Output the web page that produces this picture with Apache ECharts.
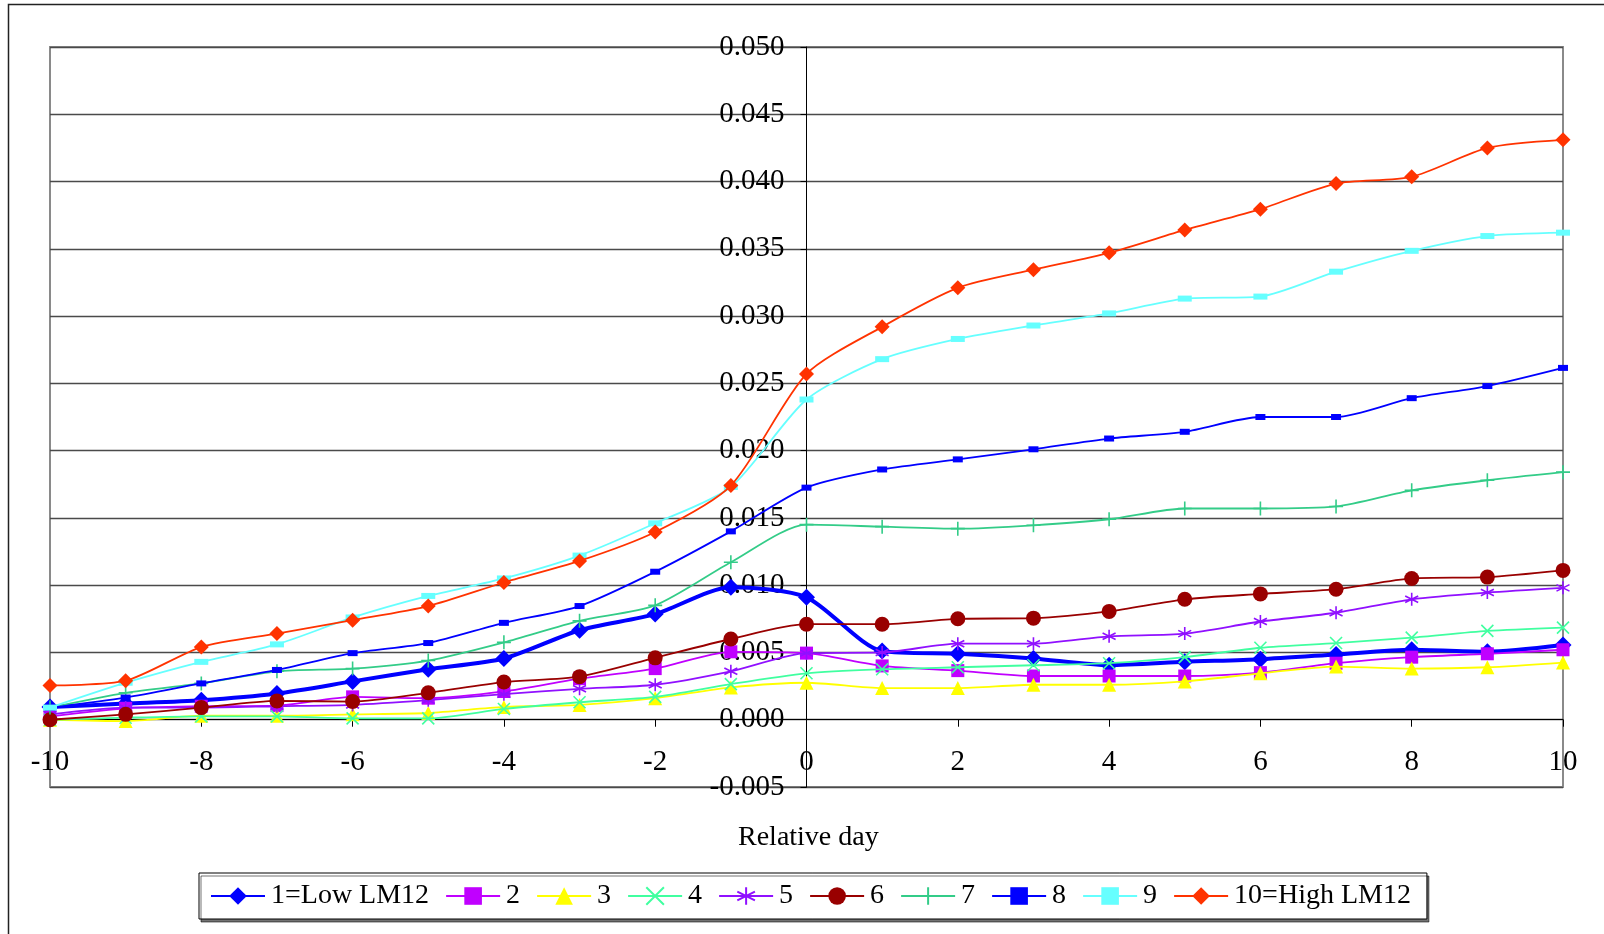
<!DOCTYPE html>
<html>
<head>
<meta charset="utf-8">
<style>
  html, body { margin: 0; padding: 0; background: #fff; }
  #chart { width: 1604px; height: 934px; }
</style>
<script src="https://cdn.jsdelivr.net/npm/echarts@6/dist/echarts.min.js"></script>
</head>
<body>
<div id="chart"></div>
<script>
// ---- data ----
var days = [-10, -9, -8, -7, -6, -5, -4, -3, -2, -1, 0, 1, 2, 3, 4, 5, 6, 7, 8, 9, 10];
var yTicks = [-0.005, 0.000, 0.005, 0.010, 0.015, 0.020, 0.025, 0.030, 0.035, 0.040, 0.045, 0.050];
var seriesNames = ['1=Low LM12', '2', '3', '4', '5', '6', '7', '8', '9', '10=High LM12'];

var s1  = [0.00095, 0.0012, 0.00145, 0.00195, 0.00285, 0.00375, 0.00455, 0.00665, 0.00785, 0.00985, 0.0091, 0.0051, 0.0049, 0.00455, 0.00405, 0.0043, 0.0045, 0.00485, 0.0052, 0.00505, 0.00555];
var s2  = [0.00025, 0.00085, 0.0010, 0.00105, 0.0017, 0.0016, 0.0021, 0.00305, 0.0038, 0.00505, 0.00495, 0.0040, 0.00365, 0.00325, 0.00325, 0.00325, 0.0035, 0.0042, 0.00465, 0.0049, 0.0052];
var s3  = [0.0000, -0.0001, 0.0003, 0.0003, 0.0004, 0.0005, 0.00095, 0.0011, 0.0016, 0.0024, 0.00275, 0.00235, 0.00235, 0.0026, 0.0026, 0.00285, 0.00345, 0.00395, 0.0038, 0.0039, 0.00425];
var s4  = [0.0000, 0.00015, 0.00025, 0.00025, 0.0001, 0.0001, 0.0008, 0.0013, 0.0017, 0.00265, 0.00345, 0.00375, 0.0039, 0.00405, 0.0042, 0.00465, 0.00535, 0.0057, 0.0061, 0.0066, 0.00685];
var s5  = [0.0004, 0.0009, 0.0009, 0.0010, 0.0011, 0.00145, 0.0019, 0.0023, 0.0026, 0.0036, 0.00495, 0.0050, 0.00565, 0.00565, 0.0062, 0.0064, 0.0073, 0.00795, 0.00895, 0.00945, 0.0098];
var s6  = [0.0000, 0.0004, 0.0009, 0.0014, 0.00135, 0.0020, 0.0028, 0.0032, 0.0046, 0.0060, 0.0071, 0.0071, 0.0075, 0.00755, 0.00805, 0.00895, 0.00935, 0.0097, 0.0105, 0.0106, 0.0111];
var s7  = [0.0009, 0.0020, 0.0027, 0.0036, 0.0038, 0.0044, 0.00575, 0.00735, 0.0085, 0.0117, 0.0145, 0.01435, 0.0142, 0.01445, 0.0149, 0.0157, 0.0157, 0.01585, 0.01705, 0.0178, 0.0184];
var s8  = [0.0009, 0.00165, 0.0027, 0.0037, 0.00495, 0.0057, 0.0072, 0.00845, 0.0110, 0.0140, 0.01725, 0.0186, 0.01935, 0.0201, 0.0209, 0.0214, 0.0225, 0.0225, 0.0239, 0.0248, 0.02615];
var s9  = [0.0009, 0.00275, 0.0043, 0.0056, 0.0076, 0.0092, 0.0105, 0.0122, 0.0146, 0.0173, 0.0238, 0.0268, 0.0283, 0.0293, 0.0302, 0.0313, 0.03145, 0.0333, 0.03485, 0.03595, 0.0362];
var s10 = [0.00255, 0.0029, 0.0054, 0.0064, 0.0074, 0.00845, 0.0102, 0.0118, 0.01395, 0.0174, 0.0257, 0.0292, 0.0321, 0.03345, 0.0347, 0.0364, 0.03795, 0.03985, 0.04035, 0.0425, 0.0431];

var allValues = [s1, s2, s3, s4, s5, s6, s7, s8, s9, s10];

// ---- layout ----
var FONT = "'Liberation Serif', 'Times New Roman', serif";
var G = { left: 50, right: 41, top: 47, bottom: 147 };
var W = 1604, H = 934;
var gridW = W - G.left - G.right, gridH = H - G.top - G.bottom;
var xMin = days[0], xMax = days[days.length - 1];
var yMin = yTicks[0], yMax = yTicks[yTicks.length - 1];
// shift axes so that they cross at zero (labels move with them)
var yAxisOffset = -gridW * (0 - xMin) / (xMax - xMin);
var xAxisOffset = -gridH * (0 - yMin) / (yMax - yMin);

var styles = [
  { color: '#0000FF', width: 4,   symbol: 'diamond',  size: 17, stroke: false },
  { color: '#C000FF', width: 1.8, symbol: 'rect',     size: 13, stroke: false },
  { color: '#FFFF00', width: 1.8, symbol: 'triangle', size: 14, stroke: false },
  { color: '#40FFA0', width: 1.8, symbol: 'path://M0 0 L10 10 M10 0 L0 10', size: 12, stroke: true },
  { color: '#9010FF', width: 1.8, symbol: 'path://M5 0 L5 10 M0.7 2.5 L9.3 7.5 M9.3 2.5 L0.7 7.5', size: 13, stroke: true },
  { color: '#990000', width: 1.8, symbol: 'circle',   size: 15, stroke: false },
  { color: '#33CC88', width: 1.8, symbol: 'path://M5 0 L5 10 M0 5 L10 5', size: 14, stroke: true },
  { color: '#0000FF', width: 1.8, symbol: 'rect',     size: [10, 6], stroke: false },
  { color: '#66FFFF', width: 1.8, symbol: 'rect',     size: [14, 6], stroke: false },
  { color: '#FF3300', width: 1.8, symbol: 'diamond',  size: 15, stroke: false }
];

var series = seriesNames.map(function (name, i) {
  var st = styles[i];
  var vals = allValues[i];
  return {
    name: name,
    type: 'line',
    smooth: 0.25,
    data: days.map(function (d, k) { return [d, vals[k]]; }),
    symbol: st.symbol,
    symbolSize: st.size,
    showAllSymbol: true,
    lineStyle: { color: st.color, width: st.width },
    itemStyle: st.stroke
      ? { color: st.color, borderColor: st.color, borderWidth: 1.6 }
      : { color: st.color, borderWidth: 0 },
    emphasis: { disabled: true },
    z: 3 + i
  };
});

var chart = echarts.init(document.getElementById('chart'), null, { renderer: 'canvas' });
chart.setOption({
  animation: false,
  backgroundColor: '#ffffff',
  grid: {
    left: G.left, right: G.right, top: G.top, bottom: G.bottom,
    show: true, borderColor: '#8a8a8a', borderWidth: 2, backgroundColor: 'transparent'
  },
  xAxis: {
    type: 'value', min: xMin, max: xMax, interval: 2,
    position: 'bottom', offset: xAxisOffset,
    axisLine: { onZero: false, lineStyle: { color: '#000', width: 1 } },
    axisTick: { show: true, length: 7, lineStyle: { color: '#000' } },
    splitLine: { show: false },
    axisLabel: { fontSize: 29, fontFamily: FONT, color: '#000', margin: 28 }
  },
  yAxis: {
    type: 'value', min: yMin, max: yMax, interval: 0.005,
    position: 'left', offset: yAxisOffset,
    axisLine: { onZero: false, lineStyle: { color: '#000', width: 1 } },
    axisTick: { show: true, length: 6, lineStyle: { color: '#000' } },
    splitLine: { show: true, lineStyle: { color: '#4a4a4a', width: 1.4 } },
    axisLabel: {
      fontSize: 29, fontFamily: FONT, color: '#000', margin: 22,
      formatter: function (v) { return v.toFixed(3); }
    }
  },
  legend: {
    data: seriesNames,
    left: 199, top: 873,
    orient: 'horizontal',
    padding: [9, 16, 9, 11],
    itemGap: 16,
    itemWidth: 54,
    itemHeight: 22,
    borderColor: '#000', borderWidth: 1,
    backgroundColor: '#fff',
    shadowColor: 'rgba(0,0,0,0.55)', shadowOffsetX: 2, shadowOffsetY: 3, shadowBlur: 0,
    textStyle: { fontSize: 28, fontFamily: FONT, color: '#000', padding: [0, 0, 0, 1] }
  },
  graphic: [
    {
      type: 'rect', z: -10, silent: true,
      shape: { x: 8.5, y: 4.5, width: 1700, height: 1000 },
      style: { fill: 'none', stroke: '#222', lineWidth: 1.5 }
    },
    {
      type: 'text', left: 808 - 70, top: 824, silent: true,
      style: { text: 'Relative day', fontSize: 28, fontFamily: FONT, fill: '#000' }
    }
  ],
  series: series
});
</script>
</body>
</html>
